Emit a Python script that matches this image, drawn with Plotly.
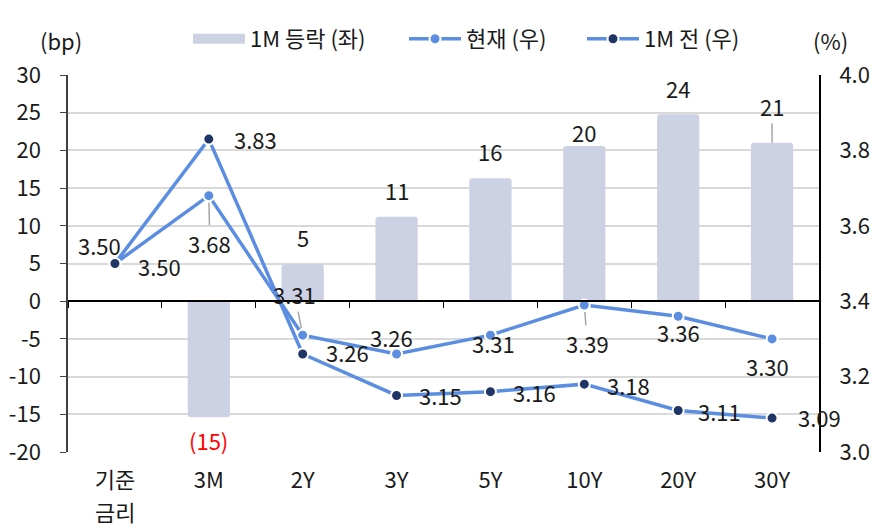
import plotly.graph_objects as go

# ---------------- data ----------------
categories = ["기준금리", "3M", "2Y", "3Y", "5Y", "10Y", "20Y", "30Y"]
category_ticks = ["기준", "3M", "2Y", "3Y", "5Y", "10Y", "20Y", "30Y"]
category_second_line = ["금리", "", "", "", "", "", "", ""]
change_bp = [None, -15.4, 4.9, 11.2, 16.3, 20.6, 24.8, 21.0]
change_labels = ["", "(15)", "5", "11", "16", "20", "24", "21"]
current_pct = [3.50, 3.68, 3.31, 3.26, 3.31, 3.39, 3.36, 3.30]
month_ago_pct = [3.50, 3.83, 3.26, 3.15, 3.16, 3.18, 3.11, 3.09]
left_ticks = [-20, -15, -10, -5, 0, 5, 10, 15, 20, 25, 30]
right_ticks = [3.0, 3.2, 3.4, 3.6, 3.8, 4.0]

# ---------------- style ----------------
FONT = "Noto Sans CJK KR"
BAR_COLOR = "#cdd1e4"
LINE_COLOR = "#5b8ee0"
NOW_MARKER = "#5b8ee0"
AGO_MARKER = "#1f3566"
TXT = "#1a1a1a"
LBL = 22

# page offset (browser body margin)
OFF = 8

# label offsets (px): (xshift, yshift, arrow)
ago_off = [(-15, 19), (47, 0), (45, 2), (44, 0), (44, 0), (44, -1), (41, 0), (47, 1)]
now_off = [(45, -2, False), (1, -47, True), (-8, 41, True), (-5, 17, False),
           (3, -8, False), (3, -38, True), (0, -16, False), (-5, -27, False)]
bar_off = [(0, 0, False), (0, -23, False), (0, 27, False), (0, 27, False),
           (0, 27, False), (0, 14, False), (0, 26, False), (0, 37, True)]

fig = go.Figure()

# legend-only swatch for the bars (wide rectangle)
fig.add_trace(go.Scatter(
    x=[None], y=[None], name="1M 등락 (좌)", mode="lines", legend="legend",
    line=dict(color=BAR_COLOR, width=18), yaxis="y", hoverinfo="skip",
))
fig.add_trace(go.Bar(
    x=categories, y=change_bp, name="1M 등락 (좌)", showlegend=False,
    marker=dict(color=BAR_COLOR, line=dict(width=0)),
    width=0.45, yaxis="y", hoverinfo="skip",
))
fig.add_trace(go.Scatter(
    x=categories, y=current_pct, name="현재 (우)", mode="lines+markers",
    legend="legend2",
    line=dict(color=LINE_COLOR, width=3.5),
    marker=dict(color=NOW_MARKER, size=11, line=dict(color="white", width=2)),
    yaxis="y2", hoverinfo="skip",
))
fig.add_trace(go.Scatter(
    x=categories, y=month_ago_pct, name="1M 전 (우)", mode="lines+markers",
    legend="legend3",
    line=dict(color=LINE_COLOR, width=3.5),
    marker=dict(color=AGO_MARKER, size=11, line=dict(color="white", width=2)),
    yaxis="y2", hoverinfo="skip",
))
# helper trace for the zero-line category axis
fig.add_trace(go.Scatter(
    x=categories, y=[None] * len(categories), xaxis="x2", yaxis="y",
    showlegend=False, hoverinfo="skip", mode="markers",
))

annotations = []
for i, c in enumerate(categories):
    dx, dy = ago_off[i]
    annotations.append(dict(x=c, y=month_ago_pct[i], xref="x", yref="y2",
                            text=f"{month_ago_pct[i]:.2f}", showarrow=False,
                            xshift=dx, yshift=dy,
                            font=dict(size=LBL, color=TXT, family=FONT)))
    dx, dy, arr = now_off[i]
    if arr:
        annotations.append(dict(x=c, y=current_pct[i], xref="x", yref="y2",
                                text=f"{current_pct[i]:.2f}", showarrow=True,
                                arrowhead=0, arrowwidth=1.5, arrowcolor="#a6a6a6",
                                ax=dx, ay=-dy, standoff=7,
                                font=dict(size=LBL, color=TXT, family=FONT)))
    else:
        annotations.append(dict(x=c, y=current_pct[i], xref="x", yref="y2",
                                text=f"{current_pct[i]:.2f}", showarrow=False,
                                xshift=dx, yshift=dy,
                                font=dict(size=LBL, color=TXT, family=FONT)))
    if change_bp[i] is not None:
        dx, dy, arr = bar_off[i]
        col = "#ff0000" if change_bp[i] < 0 else TXT
        if arr:
            annotations.append(dict(x=c, y=change_bp[i], xref="x", yref="y",
                                    text=change_labels[i], showarrow=True,
                                    arrowhead=0, arrowwidth=1.5, arrowcolor="#a6a6a6",
                                    ax=dx, ay=-dy, standoff=0,
                                    font=dict(size=LBL, color=col, family=FONT)))
        else:
            annotations.append(dict(x=c, y=change_bp[i], xref="x", yref="y",
                                    text=change_labels[i], showarrow=False,
                                    xshift=dx, yshift=dy,
                                    font=dict(size=LBL, color=col, family=FONT)))
    # second line of category label
    if category_second_line[i]:
        annotations.append(dict(x=c, y=0, xref="x", yref="paper",
                                text=category_second_line[i], showarrow=False,
                                yanchor="middle", yshift=-59,
                                font=dict(size=LBL, color=TXT, family=FONT)))

W, H = 879 - OFF, 530 - OFF
ML, MR, MT, MB = 68 - OFF, 60, 75 - OFF, 78
pw, ph = W - ML - MR, H - MT - MB


def px_to_paper(px, py):
    return (px - OFF - ML) / pw, 1 + (MT - (py - OFF)) / ph


for txt, (px, py) in [("(bp)", (38, 22)), ("(%)", (850, 22))]:
    xx, yy = px_to_paper(px, py)
    annotations.append(dict(x=xx, y=yy, xref="paper", yref="paper", text=txt,
                            showarrow=False,
                            font=dict(size=LBL, color=TXT, family=FONT)))


def legend_at(px, py):
    xx, yy = px_to_paper(px, py)
    return dict(orientation="h", x=xx, xanchor="left", y=yy, yanchor="middle",
                font=dict(size=LBL, family=FONT, color=TXT), itemwidth=52,
                bgcolor="rgba(0,0,0,0)", borderwidth=0)


fig.update_layout(
    width=W, height=H,
    margin=dict(l=ML, r=MR, t=MT, b=MB, autoexpand=False),
    paper_bgcolor="white", plot_bgcolor="white",
    font=dict(family=FONT, size=LBL, color=TXT),
    showlegend=True,
    legend=legend_at(188, 39),
    legend2=legend_at(404, 39),
    legend3=legend_at(582, 39),
    xaxis=dict(type="category", categoryorder="array", categoryarray=categories,
               tickvals=categories, ticktext=category_ticks,
               range=[-0.5, len(categories) - 0.5], showline=False, ticks="",
               showgrid=False, tickfont=dict(size=LBL), ticklabelstandoff=13),
    xaxis2=dict(type="category", categoryorder="array", categoryarray=categories,
                range=[-0.5, len(categories) - 0.5], overlaying="x", anchor="free",
                position=0.4, side="bottom", showline=True, linecolor="#000000",
                linewidth=1.5, ticks="outside", ticklen=6, tickwidth=1,
                tickcolor="#000000", tickson="boundaries", showticklabels=False,
                showgrid=False),
    yaxis=dict(range=[-20, 30], tickvals=left_ticks,
               ticktext=[str(v) for v in left_ticks], showgrid=True,
               gridcolor="#d9d9d9", gridwidth=1.5, zeroline=False,
               showline=True, linecolor="#404040", linewidth=1.5,
               ticks="outside", ticklen=6, tickcolor="#404040",
               tickfont=dict(size=LBL), ticklabelstandoff=15),
    yaxis2=dict(range=[3.0, 4.0], tickvals=right_ticks, tickformat=".1f",
                overlaying="y", side="right", showgrid=False, zeroline=False,
                showline=True, linecolor="#000000", linewidth=2, ticks="",
                tickfont=dict(size=LBL), ticklabelstandoff=14),
    annotations=annotations,
    barcornerradius=3,
)

fig.write_html("out.html")
